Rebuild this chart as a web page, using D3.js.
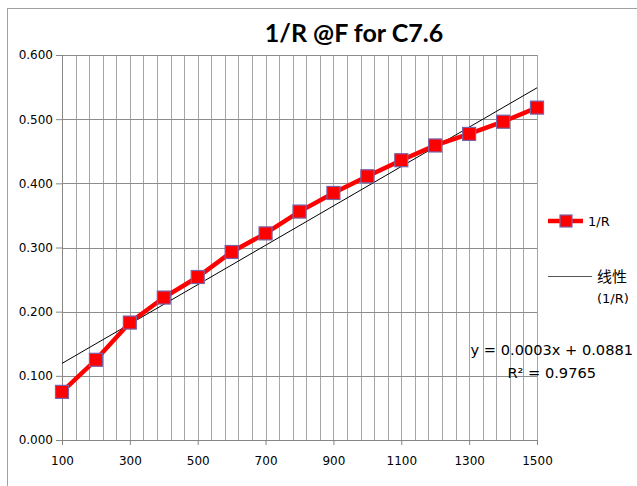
<!DOCTYPE html>
<html>
<head>
<meta charset="utf-8">
<script src="https://cdn.jsdelivr.net/npm/d3@7"></script>
<style>
  body { margin: 0; background: #fff; }
  svg { display: block; }
  .tick-label { font-family: "DejaVu Sans", sans-serif; font-size: 12px; fill: #000; }
</style>
</head>
<body>
<div id="chart-area"></div>
<script>
// 1/R values
const freqs = [100, 200, 300, 400, 500, 600, 700, 800, 900, 1000, 1100, 1200, 1300, 1400, 1500];
const invR = [0.075, 0.125, 0.183, 0.222, 0.254, 0.293, 0.322, 0.356, 0.385, 0.411, 0.436, 0.459, 0.477, 0.496, 0.518];
const xTicks = [100, 300, 500, 700, 900, 1100, 1300, 1500];
const yTicks = [0, 0.1, 0.2, 0.3, 0.4, 0.5, 0.6];
const xGrid = d3.range(100, 1501, 40);

const W = 637, H = 486;
const margin = { top: 55, right: 100, bottom: 46, left: 62 };
const width = W - margin.left - margin.right;   // 475
const height = H - margin.top - margin.bottom;  // 385

const root = d3.select("#chart-area")
  .append("svg")
  .attr("width", W)
  .attr("height", H);

// chart area border
root.append("rect")
  .attr("x", 7.5).attr("y", 8.5)
  .attr("width", W + 20).attr("height", H + 20)
  .attr("fill", "none")
  .attr("stroke", "#a0a0a0");

root.append("text")
  .attr("x", 354).attr("y", 42)
  .attr("text-anchor", "middle")
  .style("font-family", "Lato, 'Open Sans', sans-serif")
  .style("font-weight", "bold")
  .style("font-size", "25px")
  .text("1/R @F for C7.6");

const svg = root.append("g")
  .attr("transform", `translate(${margin.left},${margin.top})`);

const x = d3.scaleLinear().domain([100, 1500]).range([0, width]);
const y = d3.scaleLinear().domain([0, 0.6]).range([height, 0]);

// grid
svg.selectAll(".vgrid")
  .data(xGrid)
  .enter().append("line")
  .attr("x1", d => Math.round(x(d)) + 0.5).attr("x2", d => Math.round(x(d)) + 0.5)
  .attr("y1", 0).attr("y2", height)
  .attr("stroke", "#a6a6a6");

svg.selectAll(".hgrid")
  .data(yTicks)
  .enter().append("line")
  .attr("x1", 0).attr("x2", width)
  .attr("y1", d => Math.round(y(d)) + 0.5).attr("y2", d => Math.round(y(d)) + 0.5)
  .attr("stroke", "#8c8c8c");

// axes
const xAxis = svg.append("g")
  .attr("transform", `translate(0,${height})`)
  .call(d3.axisBottom(x).tickValues(xTicks).tickSize(5).tickPadding(11).tickFormat(d3.format("d")));
const yAxis = svg.append("g")
  .call(d3.axisLeft(y).tickValues(yTicks).tickSize(6).tickPadding(3).tickFormat(d3.format(".3f")));

[xAxis, yAxis].forEach(a => {
  a.select(".domain").attr("stroke", "#868686");
  a.selectAll(".tick line").attr("stroke", "#868686");
  a.selectAll(".tick text").attr("class", "tick-label").attr("fill", "#000");
});

// linear trendline (least squares)
const mx = d3.mean(freqs), my = d3.mean(invR);
const slope = d3.sum(freqs, (f, i) => (f - mx) * (invR[i] - my)) / d3.sum(freqs, f => (f - mx) ** 2);
const icpt = my - slope * mx;
svg.append("line")
  .attr("x1", x(100)).attr("y1", y(icpt + slope * 100))
  .attr("x2", x(1500)).attr("y2", y(icpt + slope * 1500))
  .attr("stroke", "#000")
  .attr("stroke-width", 1);

// data line
const data = freqs.map((f, i) => ({ f, v: invR[i] }));
svg.append("path")
  .datum(data)
  .attr("fill", "none")
  .attr("stroke", "#ff0000")
  .attr("stroke-width", 4.5)
  .attr("d", d3.line().x(d => x(d.f)).y(d => y(d.v)));

svg.selectAll(".pt")
  .data(data)
  .enter().append("rect")
  .attr("x", d => x(d.f) - 6.5).attr("y", d => y(d.v) - 6.5)
  .attr("width", 13).attr("height", 13)
  .attr("fill", "#ff0000")
  .attr("stroke", "#7a62a8")
  .attr("stroke-width", 1.2);

// equation
const eq = root.append("g").style("font-family", "'DejaVu Sans', sans-serif").style("font-size", "14.6px");
eq.append("text").attr("x", 633).attr("y", 355).attr("text-anchor", "end").text("y = 0.0003x + 0.0881");
eq.append("text").attr("x", 596).attr("y", 378).attr("text-anchor", "end").text("R² = 0.9765");

// legend
const lg = root.append("g").style("font-family", "'DejaVu Sans', sans-serif").style("font-size", "13px");
lg.append("line").attr("x1", 548).attr("x2", 583).attr("y1", 221).attr("y2", 221)
  .attr("stroke", "#ff0000").attr("stroke-width", 4.5);
lg.append("rect").attr("x", 560).attr("y", 215).attr("width", 12).attr("height", 12)
  .attr("fill", "#ff0000").attr("stroke", "#7a62a8").attr("stroke-width", 1.2);
lg.append("text").attr("x", 588).attr("y", 226).text("1/R");

lg.append("line").attr("x1", 548).attr("x2", 592).attr("y1", 276.5).attr("y2", 276.5)
  .attr("stroke", "#555").attr("stroke-width", 1);
lg.append("text").attr("x", 597).attr("y", 282)
  .style("font-family", "'Noto Sans CJK SC', sans-serif").style("font-size", "15px").text("线性");
lg.append("text").attr("x", 597).attr("y", 303).text("(1/R)");
</script>
</body>
</html>
